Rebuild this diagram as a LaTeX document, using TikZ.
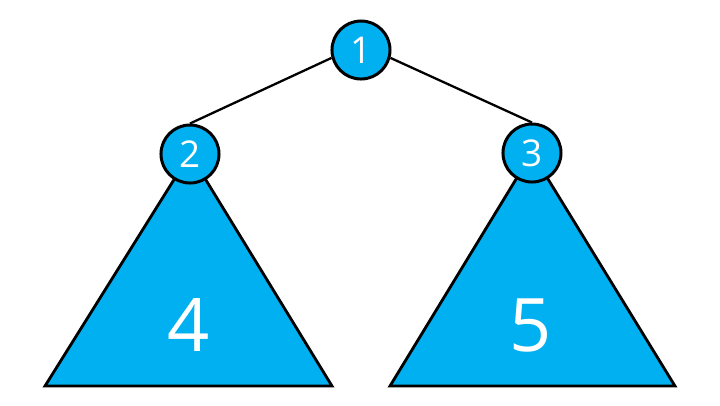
\documentclass[tikz,border=0pt]{standalone}
\usepackage{fontspec}
\setmainfont{Open Sans}
\usepackage{tikz}
\usetikzlibrary{backgrounds,positioning}
\definecolor{treeblue}{HTML}{00B0F0}

\begin{document}
\begin{tikzpicture}[x=0.01cm,y=-0.01cm,thick]
    \tikzstyle{vertex}=[circle, minimum size=0.58cm, inner sep=0pt, draw, line width=0.85pt, fill=treeblue, text=white, font=\fontsize{10.5}{12}\selectfont]
    \tikzstyle{subtree}=[draw, line width=0.8pt, fill=treeblue, line join=miter]
    \tikzstyle{treelabel}=[text=white, font=\fontsize{21}{24}\selectfont]
    \useasboundingbox (0,0) rectangle (720,405);

    \node[vertex]          (1) at (361,50) {1};
    \node[vertex]          (2) at (190,154) {2};
    \node[vertex]          (3) at (532,153) {3};
    \coordinate            (lbl) at (45,386);
    \coordinate            (lbr) at (332,386);
    \coordinate            (rbl) at (390,386);
    \coordinate            (rbr) at (675,386);
    \node[treelabel]       (4) at (189,325) {4};
    \node[treelabel]       (5) at (531,325) {5};

    \begin{scope}[on background layer]
    \path[subtree] (2.center) -- (lbr) -- (lbl) -- cycle;
    \path[subtree] (3.center) -- (rbr) -- (rbl) -- cycle;
    \end{scope}

    \path[draw, line width=0.65pt] (1.195) edge (2.north);
    \path[draw, line width=0.65pt] (1.-15) edge (3.north);
\end{tikzpicture}
\end{document}
